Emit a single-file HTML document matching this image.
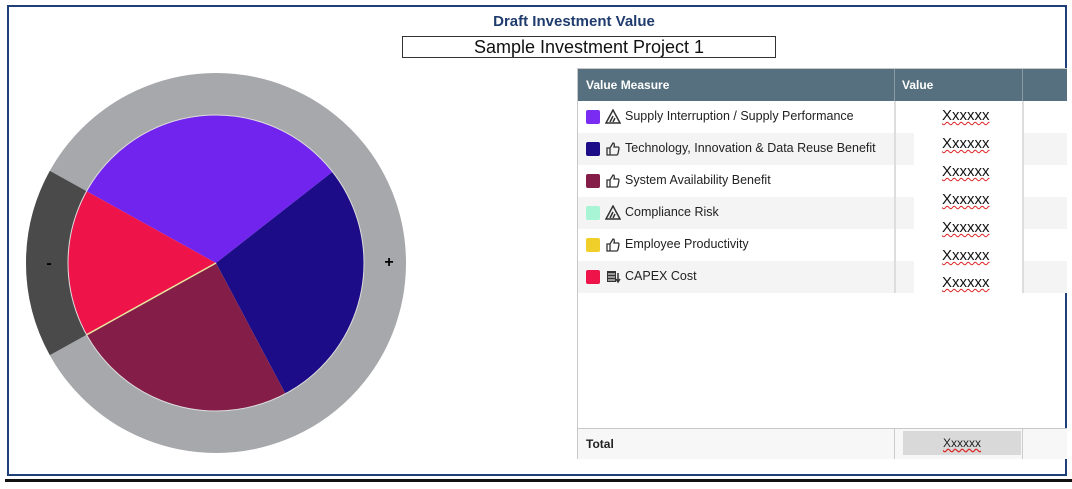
<!DOCTYPE html>
<html><head><meta charset="utf-8"><style>
body{margin:0;width:1072px;height:489px;background:#fff;position:relative;overflow:hidden;font-family:"Liberation Sans",sans-serif}
.frame{position:absolute;left:7px;top:5px;width:1056px;height:467px;border:2px solid #1f3f7a}
.bl{position:absolute;left:5px;top:479px;width:1067px;height:3px;background:#111}
.title{position:absolute;left:0;width:1148px;top:13px;text-align:center;color:#203c6e;font-weight:bold;font-size:15px}
.box{position:absolute;left:402px;top:36px;width:372px;height:20px;border:1px solid #333;text-align:center;font-size:18px;line-height:20px;color:#111}
.tbl{position:absolute;left:577px;top:68px;width:489px;height:389px;border:1px solid #c8c8c8;border-right:none}
.hd{position:absolute;left:0;top:0;width:489px;height:32px;background:#56707f;color:#fff;font-size:12px;font-weight:bold}
.row{position:absolute;left:0;width:489px;height:32px;font-size:12.5px;color:#222}
.sw{position:absolute;left:8px;top:9px;width:14px;height:14px;border-radius:2px}
.ic{position:absolute;left:27px;top:8px}
.lb{position:absolute;left:47px;top:8px}
.val{position:absolute;left:364px;font-size:15px;color:#111;text-decoration:underline wavy #d22;text-decoration-thickness:1px;z-index:5}
.vl{position:absolute;top:0;width:2px;background:#ddd;z-index:4}
</style></head><body>
<div class="frame"></div><div class="bl"></div>
<div class="title">Draft Investment Value</div>
<div class="box">Sample Investment Project 1</div>
<svg style="position:absolute;left:0;top:0" width="460" height="489">
<circle cx="216" cy="263" r="169" fill="none" stroke="#a7a8ab" stroke-width="42"/>
<path d="M68.2,181.1 A169,169 0 0 0 68.2,344.9" fill="none" stroke="#4a4a4a" stroke-width="42"/>
<path d="M216,263 L86.6,191.2 A148,148 0 0 1 332.6,171.8Z" fill="#7224ef"/>
<path d="M216,263 L332.6,171.8 A148,148 0 0 1 285.4,393.7Z" fill="#1c0c88"/>
<path d="M216,263 L285.4,393.7 A148,148 0 0 1 86.6,334.8Z" fill="#841d47"/>
<path d="M216,263 L86.6,334.8 A148,148 0 0 1 86.6,191.2Z" fill="#ee1349"/>
<line x1="216" y1="263" x2="86.6" y2="334.8" stroke="#e8e6a0" stroke-width="1.5"/>
<circle cx="216" cy="263" r="148" fill="none" stroke="#ddd" stroke-width="1"/>
<text x="49" y="268" font-size="16" font-weight="bold" text-anchor="middle" fill="#000">-</text>
<text x="389" y="267" font-size="16" font-weight="bold" text-anchor="middle" fill="#000">+</text>
</svg>
<svg width="0" height="0" style="position:absolute"><defs>
<g id="tri"><path d="M1,14 L8,1 L15,14Z" fill="none" stroke="#333" stroke-width="1.5"/><path d="M5,13 L8,7 M8,13 L10,9" stroke="#333" stroke-width="1.5"/></g>
<g id="thumb"><path d="M2,7 h3 v7 h-3z M5,7 L8,2 Q10,2 9,6 h4 q1,0 1,1.5 l-1,5 q-0.3,1.5 -1.5,1.5 h-6.5" fill="none" stroke="#333" stroke-width="1.3"/></g>
<g id="cap"><rect x="2" y="2" width="9" height="11" fill="#333"/><path d="M3,5h7M3,8h7M3,11h7" stroke="#fff"/><path d="M13,4v8 M11,10l2,3 2,-3" stroke="#333" stroke-width="1.5" fill="none"/></g>
</defs></svg>
<div class="tbl">
<div class="hd"><span style="position:absolute;left:8px;top:9px">Value Measure</span><span style="position:absolute;left:324px;top:9px">Value</span>
<div style="position:absolute;left:316px;top:0;width:1px;height:32px;background:#8a9aa5"></div><div style="position:absolute;left:444px;top:0;width:1px;height:32px;background:#8a9aa5"></div></div>
<div class="row" style="top:32px;background:#fff"><div class="sw" style="background:#7a2cf2"></div><svg class="ic" width="16" height="16"><use href="#tri"/></svg><span class="lb">Supply Interruption / Supply Performance</span></div>
<div class="row" style="top:64px;background:#f4f4f4"><div class="sw" style="background:#1c0c88"></div><svg class="ic" width="16" height="16"><use href="#thumb"/></svg><span class="lb">Technology, Innovation &amp; Data Reuse Benefit</span></div>
<div class="row" style="top:96px;background:#fff"><div class="sw" style="background:#841d47"></div><svg class="ic" width="16" height="16"><use href="#thumb"/></svg><span class="lb">System Availability Benefit</span></div>
<div class="row" style="top:128px;background:#f4f4f4"><div class="sw" style="background:#a8f5d6"></div><svg class="ic" width="16" height="16"><use href="#tri"/></svg><span class="lb">Compliance Risk</span></div>
<div class="row" style="top:160px;background:#fff"><div class="sw" style="background:#f0cf2a"></div><svg class="ic" width="16" height="16"><use href="#thumb"/></svg><span class="lb">Employee Productivity</span></div>
<div class="row" style="top:192px;background:#f4f4f4"><div class="sw" style="background:#ee1349"></div><svg class="ic" width="16" height="16"><use href="#cap"/></svg><span class="lb">CAPEX Cost</span></div>
<div style="position:absolute;left:336px;top:32px;width:108px;height:192px;background:#fff;z-index:3"></div>
<span class="val" style="top:38px">Xxxxxx</span>
<span class="val" style="top:66px">Xxxxxx</span>
<span class="val" style="top:94px">Xxxxxx</span>
<span class="val" style="top:122px">Xxxxxx</span>
<span class="val" style="top:150px">Xxxxxx</span>
<span class="val" style="top:178px">Xxxxxx</span>
<span class="val" style="top:205px">Xxxxxx</span>
<div class="vl" style="left:316px;top:32px;height:192px"></div><div class="vl" style="left:444px;top:32px;height:192px"></div>
<div class="row" style="top:359px;height:30px;border-top:1px solid #c8c8c8;background:#f7f7f7"><span style="position:absolute;left:8px;top:8px;font-weight:bold;font-size:12px">Total</span>
<div style="position:absolute;left:325px;top:2px;width:118px;height:24px;background:#d9d9d9;text-align:center;line-height:24px;font-size:12px;text-decoration:underline wavy #d22">Xxxxxx</div>
<div style="position:absolute;left:316px;top:0;width:1px;height:30px;background:#ccc"></div><div style="position:absolute;left:444px;top:0;width:1px;height:30px;background:#ccc"></div></div>
</div>
</body></html>
